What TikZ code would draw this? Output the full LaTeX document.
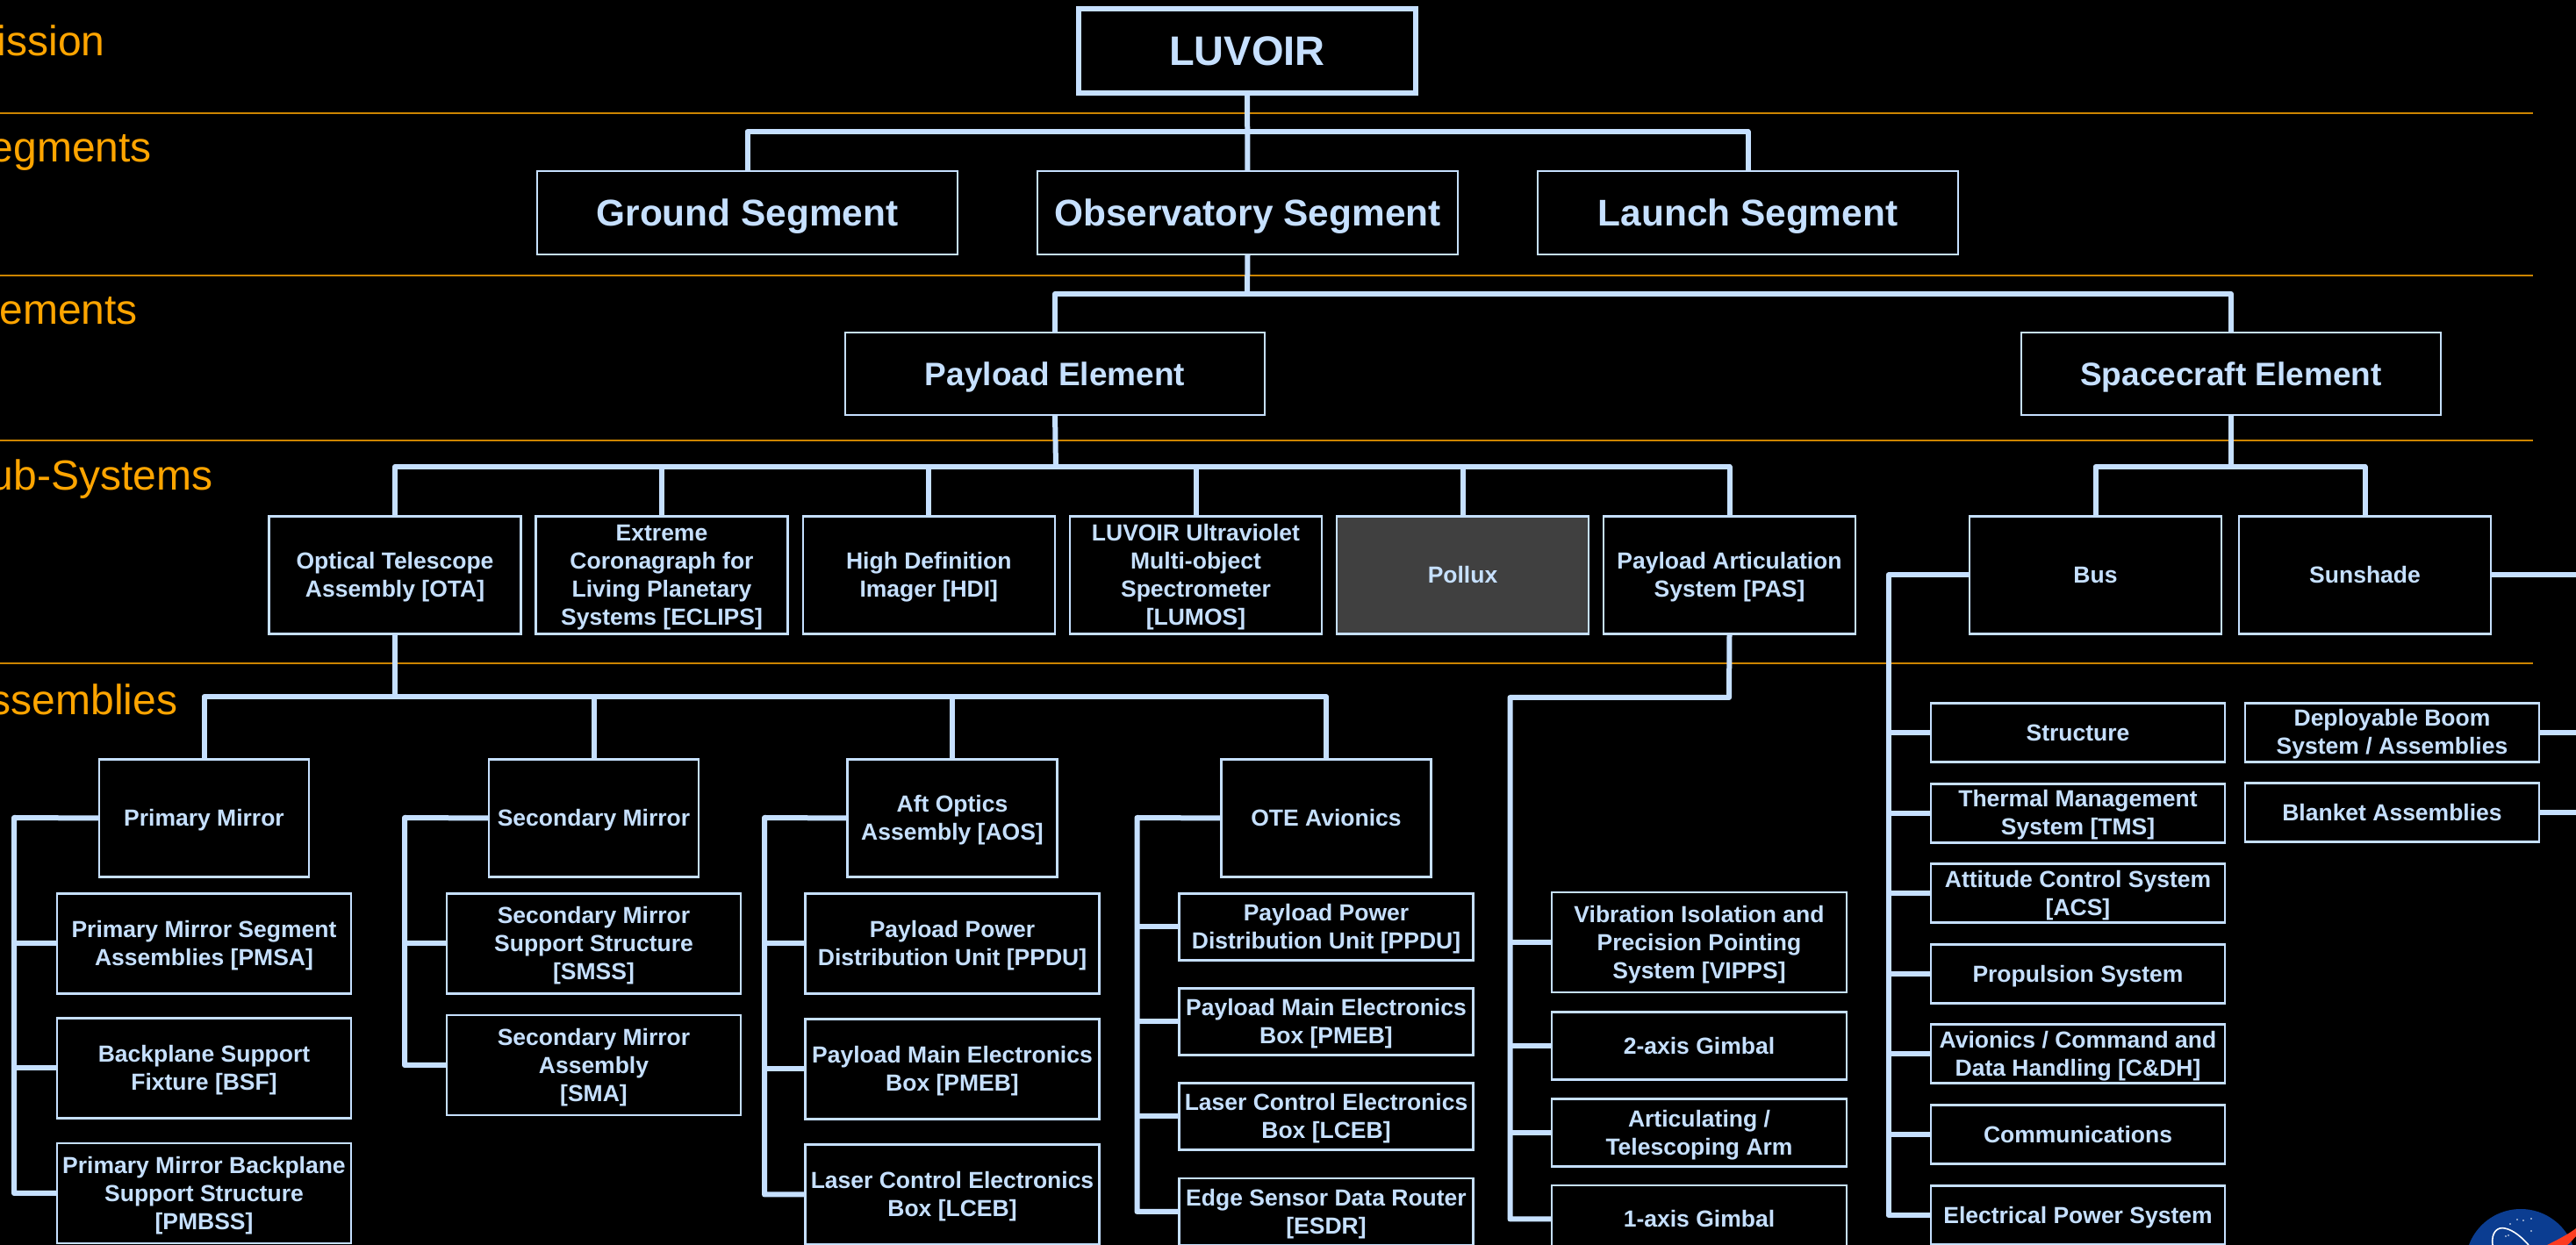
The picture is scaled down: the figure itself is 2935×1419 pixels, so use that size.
\documentclass[tikz,border=0pt]{standalone}
\usepackage{fontspec}
\setmainfont{Liberation Sans}
\definecolor{lvblue}{HTML}{C6E0FF}
\definecolor{lvorange}{HTML}{FFA500}
\definecolor{lvrule}{HTML}{CC8400}
\definecolor{lvgray}{HTML}{404040}
\definecolor{lvnasa}{HTML}{0B3D91}
\definecolor{lvred}{HTML}{FC3D21}
\newcommand\lvl{\rule{0pt}{.93em}}
\tikzset{
  lvbox/.style 2 args={draw=lvblue,line width=.65pt,text=lvblue,inner sep=0pt,outer sep=0pt,align=center,
    minimum width=#1*.25pt,minimum height=#2*.25pt,font=\fontsize{6.625}{8}\selectfont\bfseries,
    execute at begin node={\rule{0pt}{.966em}},execute at end node={\rule[-.25em]{0pt}{.25em}}},
  topbox/.style={lvbox={384}{96},line width=1.5pt,font=\fontsize{11.75}{14}\selectfont\bfseries},
  segbox/.style={lvbox={479}{95},font=\fontsize{10.6}{13}\selectfont\bfseries},
  elmbox/.style={lvbox={478}{94},font=\fontsize{9.25}{11}\selectfont\bfseries},
  subbox/.style={lvbox={287}{134}},
  asmbox/.style={lvbox={239}{134}},
  partbox/.style={lvbox={335}{114}},
  thinbox/.style={lvbox={335}{76}},
  gimbox/.style={lvbox={336}{77}},
  busbox/.style={lvbox={335}{67}},
  wire/.style={draw=lvblue,line width=1.5pt,line join=round},
  lvrule/.style={draw=lvrule,line width=.6pt},
  lvlevel/.style={text=lvorange,anchor=base west,inner sep=0pt,font=\fontsize{12}{14}\selectfont}
}
\begin{document}
\begin{tikzpicture}[x=.25pt,y=-.25pt]
  \clip(0,0)rectangle(2935,1419);
  \fill[black](0,0)rectangle(2935,1419);
  \foreach \y in{129,314,502,756}\draw[lvrule](0,\y)--(2886,\y);
  \node[lvlevel](mis)at(-44,64){Mission};
  \node[lvlevel](seg)at(-44,185){Segments};
  \node[lvlevel](elm)at(-44,370){Elements};
  \node[lvlevel](sbs)at(-44,559){Sub-Systems};
  \node[lvlevel](asm)at(-44,815){Assemblies};

  \node[topbox](lvr)at(1421,58){LUVOIR};
  \node[segbox](grd)at(851.5,242.5){Ground Segment};
  \node[segbox](obs)at(1421.5,242.5){Observatory Segment};
  \node[segbox](lch)at(1991.5,242.5){Launch Segment};
  \node[elmbox](pld)at(1202,426){Payload Element};
  \node[elmbox](spc)at(2542,426){Spacecraft Element};

  \node[subbox](ota)at(450,655.5){\lvl Optical Telescope\\Assembly [OTA]};
  \node[subbox](ecl)at(754,655.5){\lvl Extreme\\Coronagraph for\\Living Planetary\\Systems [ECLIPS]};
  \node[subbox](hdi)at(1058.3,655.5){\lvl High Definition\\Imager [HDI]};
  \node[subbox](lum)at(1362.5,655.5){\lvl LUVOIR Ultraviolet\\Multi-object\\Spectrometer\\{[LUMOS]}};
  \node[subbox,fill=lvgray](plx)at(1666.5,655.5){Pollux};
  \node[subbox](pas)at(1970.5,655.5){\lvl Payload Articulation\\System [PAS]};
  \node[subbox](bus)at(2387.5,655.5){Bus};
  \node[subbox](shd)at(2694.5,655.5){Sunshade};

  \node[asmbox](prm)at(232.5,932.5){Primary Mirror};
  \node[asmbox](scm)at(676.5,932.5){Secondary Mirror};
  \node[asmbox](aos)at(1085,932.5){\lvl Aft Optics\\Assembly [AOS]};
  \node[asmbox](ote)at(1511,932.5){OTE Avionics};

  \node[partbox](pmsa)at(232.5,1075.5){\lvl Primary Mirror Segment\\Assemblies [PMSA]};
  \node[partbox](bsf)at(232.5,1217.5){\lvl Backplane Support\\Fixture [BSF]};
  \node[partbox](pmbss)at(232.5,1360){\lvl Primary Mirror Backplane\\Support Structure\\{[PMBSS]}};
  \node[partbox](smss)at(676.5,1075.5){\lvl Secondary Mirror\\Support Structure\\{[SMSS]}};
  \node[partbox](sma)at(676.5,1214){\lvl Secondary Mirror\\Assembly\\{[SMA]}};
  \node[partbox](ppdu)at(1085,1075.5){\lvl Payload Power\\Distribution Unit [PPDU]};
  \node[partbox](pmeb)at(1085,1218.5){\lvl Payload Main Electronics\\Box [PMEB]};
  \node[partbox](lceb)at(1085,1361.5){\lvl Laser Control Electronics\\Box [LCEB]};
  \node[thinbox](oppdu)at(1511,1056.5){\lvl Payload Power\\Distribution Unit [PPDU]};
  \node[thinbox](opmeb)at(1511,1164.5){\lvl Payload Main Electronics\\Box [PMEB]};
  \node[thinbox](olceb)at(1511,1272.5){\lvl Laser Control Electronics\\Box [LCEB]};
  \node[thinbox](esdr)at(1511,1381){\lvl Edge Sensor Data Router\\{[ESDR]}};
  \node[lvbox={336}{114}](vipps)at(1936,1074){\lvl Vibration Isolation and\\Precision Pointing\\System [VIPPS]};
  \node[gimbox](gmb)at(1936,1192){2-axis Gimbal};
  \node[gimbox](arm)at(1936,1291){\lvl Articulating /\\Telescoping Arm};
  \node[gimbox](gma)at(1936,1389.5){1-axis Gimbal};

  \node[busbox](str)at(2367.5,835){Structure};
  \node[busbox](tms)at(2367.5,927){\lvl Thermal Management\\System [TMS]};
  \node[busbox](acs)at(2367.5,1018){\lvl Attitude Control System\\{[ACS]}};
  \node[busbox](prp)at(2367.5,1110){Propulsion System};
  \node[busbox](cdh)at(2367.5,1201){\lvl Avionics / Command and\\Data Handling [C\&DH]};
  \node[busbox](com)at(2367.5,1293){Communications};
  \node[busbox](eps)at(2367.5,1385){Electrical Power System};
  \node[busbox](dbs)at(2725.5,835){\lvl Deployable Boom\\System / Assemblies};
  \node[busbox](bla)at(2725.5,926){Blanket Assemblies};

  \coordinate(sgbus)at(1421,150);
  \coordinate(elbus)at(1421,335);
  \coordinate(plbus)at(1203,532);
  \coordinate(scbus)at(2542,532);
  \coordinate(otbus)at(450,794);
  \coordinate(pabus)at(1970,795);
  \coordinate(prsp)at(16,932);
  \coordinate(scsp)at(461,932);
  \coordinate(aosp)at(871,932);
  \coordinate(otsp)at(1295.5,932);
  \coordinate(pasp)at(1720.5,795);
  \coordinate(bsp)at(2151.5,655.5);
  \coordinate(shsp)at(2960,655.5);

  \draw[wire](lvr)--(obs);
  \draw[wire](grd.north)|-(sgbus)-|(lch.north);
  \draw[wire](obs.south)--(elbus);
  \draw[wire](pld.north)|-(elbus)-|(spc.north);
  \draw[wire](pld.south)--(plbus);
  \draw[wire](ota.north)|-(plbus)-|(pas.north);
  \foreach \n in{ecl,hdi,lum,plx}\draw[wire](\n.north)--(\n.north|-plbus);
  \draw[wire](spc.south)--(scbus);
  \draw[wire](bus.north)|-(scbus)-|(shd.north);
  \draw[wire](ota.south)--(otbus);
  \draw[wire](prm.north)|-(otbus)-|(ote.north);
  \foreach \n in{scm,aos}\draw[wire](\n.north)--(\n.north|-otbus);
  \draw[wire](pas.south)--(pabus)--(pasp)|-(gma.west);
  \draw[wire](prm.west)--(prsp)|-(pmbss.west);
  \draw[wire](scm.west)--(scsp)|-(sma.west);
  \draw[wire](aos.west)--(aosp)|-(lceb.west);
  \draw[wire](ote.west)--(otsp)|-(esdr.west);
  \draw[wire](bus.west)--(bsp)|-(eps.west);
  \draw[wire](shd.east)--(shsp);
  \foreach \n in{pmsa,bsf}\draw[wire](\n.west)--(\n.west-|prsp);
  \draw[wire](smss.west)--(smss.west-|scsp);
  \foreach \n in{ppdu,pmeb}\draw[wire](\n.west)--(\n.west-|aosp);
  \foreach \n in{oppdu,opmeb,olceb}\draw[wire](\n.west)--(\n.west-|otsp);
  \foreach \n in{vipps,gmb,arm}\draw[wire](\n.west)--(\n.west-|pasp);
  \foreach \n in{str,tms,acs,prp,cdh,com}\draw[wire](\n.west)--(\n.west-|bsp);
  \foreach \n in{dbs,bla}\draw[wire](\n.east)--(\n.east-|shsp);

  \fill[lvnasa](2872,1441)circle(63);
  \draw[white,line width=.4pt](2840,1419)..controls(2838,1404)and(2846,1398)..(2854,1400)..controls(2864,1402)and(2874,1411)..(2881,1419);
  \foreach \x/\y in{2868/1390,2875/1391,2884/1389,2884/1403,2860/1395,2858/1408,2855/1409}\fill[white](\x,\y)circle(.9);
  \fill[lvred](2902,1419)..controls(2912,1414)and(2926,1407)..(2935,1400)--(2935,1409)..controls(2931,1413)and(2929,1416)..(2925,1419)--cycle;
\end{tikzpicture}
\end{document}
